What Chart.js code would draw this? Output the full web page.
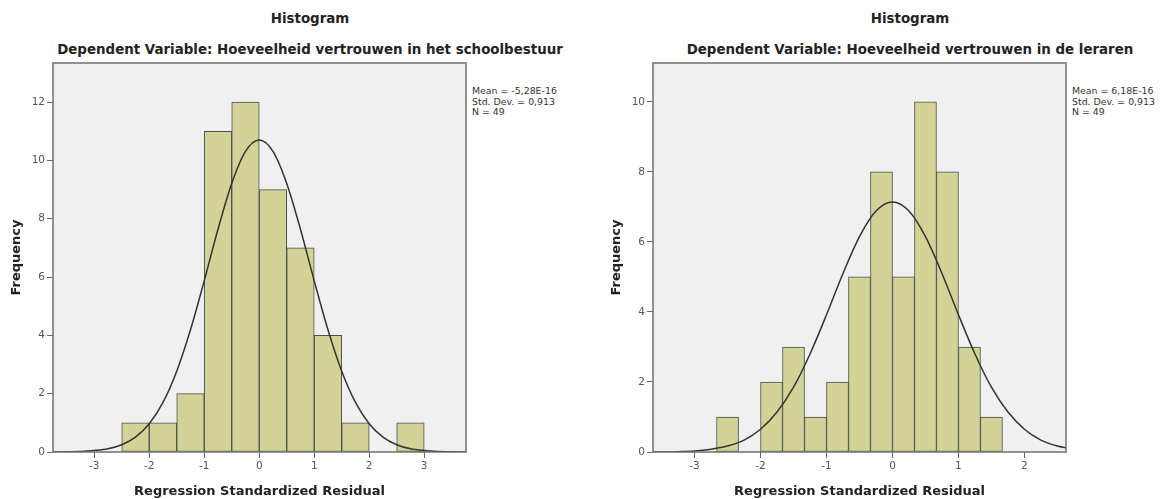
<!DOCTYPE html>
<html>
<head>
<meta charset="utf-8">
<script src="https://cdn.jsdelivr.net/npm/chart.js@4/dist/chart.umd.min.js"></script>
<style>
  html, body { margin:0; padding:0; background:#fff; }
  body { width:1160px; height:499px; position:relative; overflow:hidden; font-family:"DejaVu Sans", sans-serif; }
  canvas { position:absolute; top:0; }
  .title { position:absolute; font-weight:bold; font-size:13.4px; line-height:16px; color:#222; text-align:center; white-space:nowrap; }
  .stats { position:absolute; font-size:9.4px; line-height:10.5px; color:#333; white-space:nowrap; }
</style>
</head>
<body>
<div class="title" style="left:10px;width:600px;top:11px;">Histogram</div>
<div class="title" style="left:10px;width:600px;top:42px;">Dependent Variable: Hoeveelheid vertrouwen in het schoolbestuur</div>
<div class="title" style="left:610px;width:600px;top:11px;">Histogram</div>
<div class="title" style="left:610px;width:600px;top:42px;">Dependent Variable: Hoeveelheid vertrouwen in de leraren</div>
<div class="stats" id="statsLeft" style="left:472px;top:86px;"></div>
<div class="stats" id="statsRight" style="left:1072px;top:86px;"></div>
<canvas id="left" width="580" height="499" style="left:0;width:580px;height:499px;"></canvas>
<canvas id="right" width="580" height="499" style="left:580px;width:580px;height:499px;"></canvas>
<script>
// ---- data ----
const leftBinCenters = [-2.25, -1.75, -1.25, -0.75, -0.25, 0.25, 0.75, 1.25, 1.75, 2.25, 2.75];
const leftCounts     = [1, 1, 2, 11, 12, 9, 7, 4, 1, 0, 1];
const leftCurveX     = [-3.75,-3.5,-3.25,-3,-2.75,-2.5,-2.25,-2,-1.75,-1.5,-1.25,-1,-0.75,-0.5,-0.25,0,0.25,0.5,0.75,1,1.25,1.5,1.75,2,2.25,2.5,2.75,3,3.25,3.5,3.75];
const leftCurveY     = [0,0.01,0.02,0.05,0.11,0.25,0.51,0.97,1.70,2.77,4.19,5.87,7.64,9.21,10.31,10.7,10.31,9.21,7.64,5.87,4.19,2.77,1.70,0.97,0.51,0.25,0.11,0.05,0.02,0.01,0];
const leftXTicks     = [-3, -2, -1, 0, 1, 2, 3];
const leftYTicks     = [0, 2, 4, 6, 8, 10, 12];
const leftStats      = ["Mean = -5,28E-16", "Std. Dev. = 0,913", "N = 49"];

const rightBinCenters = [-2.5, -2.1667, -1.8333, -1.5, -1.1667, -0.8333, -0.5, -0.1667, 0.1667, 0.5, 0.8333, 1.1667, 1.5];
const rightCounts     = [1, 0, 2, 3, 1, 2, 5, 8, 5, 10, 8, 3, 1];
const rightCurveX     = [-3.75,-3.5,-3.25,-3,-2.75,-2.5,-2.25,-2,-1.75,-1.5,-1.25,-1,-0.75,-0.5,-0.25,0,0.25,0.5,0.75,1,1.25,1.5,1.75,2,2.25,2.5,2.75];
const rightCurveY     = [0,0,0.01,0.03,0.08,0.17,0.34,0.65,1.14,1.85,2.80,3.92,5.10,6.15,6.88,7.14,6.88,6.15,5.10,3.92,2.80,1.85,1.14,0.65,0.34,0.17,0.08];
const rightXTicks     = [-3, -2, -1, 0, 1, 2];
const rightYTicks     = [0, 2, 4, 6, 8, 10];
const rightStats      = ["Mean = 6,18E-16", "Std. Dev. = 0,913", "N = 49"];

const xTitle = "Regression Standardized Residual";
const yTitle = "Frequency";

document.getElementById('statsLeft').innerHTML = leftStats.join('<br>');
document.getElementById('statsRight').innerHTML = rightStats.join('<br>');

const plotFrame = {
  id: 'plotFrame',
  beforeDraw(chart) {
    const {ctx, chartArea: a} = chart;
    ctx.save();
    ctx.fillStyle = '#F0F0F0';
    ctx.fillRect(a.left, a.top, a.width, a.height);
    ctx.restore();
  },
  afterDatasetsDraw(chart) {
    const {ctx, chartArea: a} = chart;
    ctx.save();
    ctx.strokeStyle = '#707070';
    ctx.lineWidth = 1.5;
    ctx.strokeRect(a.left, a.top, a.width, a.height);
    ctx.restore();
  }
};

function makeChart(id, centers, counts, cx, cy, xmin, xmax, ymax, xt, yt, padLeft, padRight) {
  const tickFont = {family: 'DejaVu Sans', size: 10.5};
  const titleFont = {family: 'DejaVu Sans', size: 13, weight: 'bold'};
  new Chart(document.getElementById(id), {
    type: 'bar',
    data: {
      datasets: [
        {
          type: 'line',
          order: 0,
          data: cx.map((x, i) => ({x: x, y: cy[i]})),
          borderColor: '#333333',
          borderWidth: 1.5,
          pointRadius: 0,
          cubicInterpolationMode: 'monotone',
          fill: false
        },
        {
          type: 'bar',
          order: 1,
          data: centers.map((x, i) => ({x: x, y: counts[i]})),
          backgroundColor: '#D3D397',
          borderColor: '#4d4d4d',
          borderWidth: 1,
          borderSkipped: false,
          barPercentage: 1,
          categoryPercentage: 1
        }
      ]
    },
    options: {
      responsive: false,
      animation: false,
      layout: {padding: {left: padLeft, right: padRight, top: 63, bottom: 0}},
      plugins: {legend: {display: false}, tooltip: {enabled: false}, title: {display: false}},
      scales: {
        x: {
          type: 'linear', min: xmin, max: xmax, offset: false,
          afterBuildTicks: s => { s.ticks = xt.map(v => ({value: v})); },
          afterFit: s => { s.height = 47; },
          ticks: {font: tickFont, color: '#555', padding: 2, maxRotation: 0, callback: v => String(v)},
          grid: {display: true, drawOnChartArea: false, drawTicks: true, tickLength: 6, color: '#666', offset: false},
          border: {display: false},
          title: {display: true, text: xTitle, font: titleFont, color: '#222', padding: {top: 0, bottom: 0}}
        },
        y: {
          type: 'linear', min: 0, max: ymax,
          afterBuildTicks: s => { s.ticks = yt.map(v => ({value: v})); },
          afterFit: s => { s.width = 44; },
          ticks: {font: tickFont, color: '#555', padding: 2, callback: v => String(v)},
          grid: {display: true, drawOnChartArea: false, drawTicks: true, tickLength: 6, color: '#666'},
          border: {display: false},
          title: {display: true, text: yTitle, font: titleFont, color: '#222', padding: {top: 0, bottom: 0}}
        }
      }
    },
    plugins: [plotFrame]
  });
}

makeChart('left', leftBinCenters, leftCounts, leftCurveX, leftCurveY, -3.75, 3.76, 13.34, leftXTicks, leftYTicks, 9, 114);
makeChart('right', rightBinCenters, rightCounts, rightCurveX, rightCurveY, -3.63, 2.63, 11.11, rightXTicks, rightYTicks, 29, 94);
</script>
</body>
</html>
